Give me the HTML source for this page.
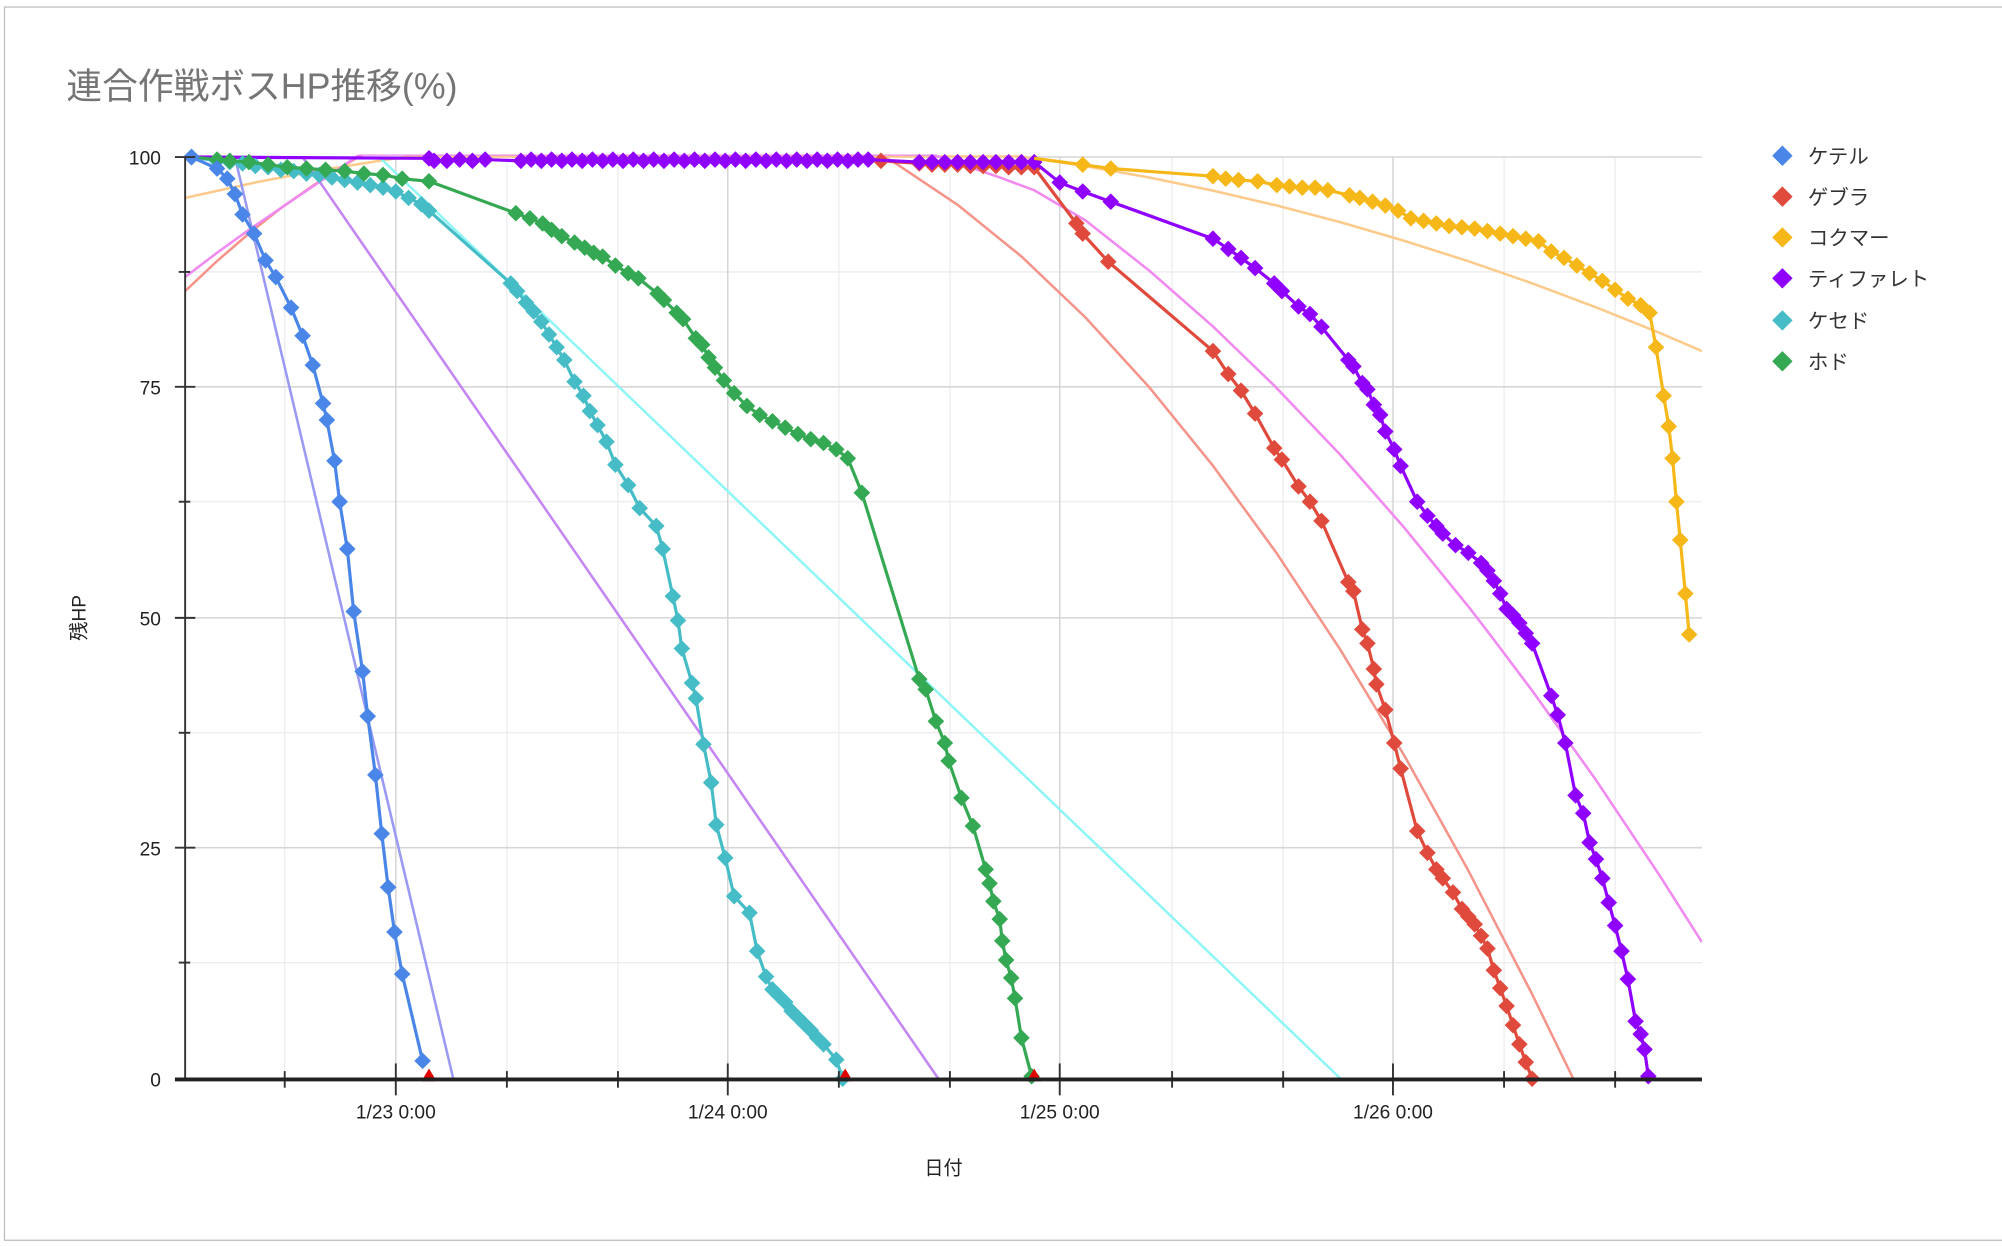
<!DOCTYPE html>
<html><head><meta charset="utf-8"><style>
html,body{margin:0;padding:0;background:#fff;}
svg{display:block;}
text{font-family:"Liberation Sans","Noto Sans CJK JP",sans-serif;}
</style></head><body>
<svg width="2002" height="1246" viewBox="0 0 1568 976" preserveAspectRatio="none" xmlns="http://www.w3.org/2000/svg">
<defs>
<marker id="mb" viewBox="-8 -8 16 16" markerWidth="16" markerHeight="16" markerUnits="userSpaceOnUse"><path d="M0-6.5L6.5 0 0 6.5-6.5 0Z" fill="#4a86e8"/></marker>
<marker id="mr" viewBox="-8 -8 16 16" markerWidth="16" markerHeight="16" markerUnits="userSpaceOnUse"><path d="M0-6.5L6.5 0 0 6.5-6.5 0Z" fill="#e04a3c"/></marker>
<marker id="my" viewBox="-8 -8 16 16" markerWidth="16" markerHeight="16" markerUnits="userSpaceOnUse"><path d="M0-6.5L6.5 0 0 6.5-6.5 0Z" fill="#f6b718"/></marker>
<marker id="mp" viewBox="-8 -8 16 16" markerWidth="16" markerHeight="16" markerUnits="userSpaceOnUse"><path d="M0-6.5L6.5 0 0 6.5-6.5 0Z" fill="#9000ff"/></marker>
<marker id="mt" viewBox="-8 -8 16 16" markerWidth="16" markerHeight="16" markerUnits="userSpaceOnUse"><path d="M0-6.5L6.5 0 0 6.5-6.5 0Z" fill="#46bdc6"/></marker>
<marker id="mg" viewBox="-8 -8 16 16" markerWidth="16" markerHeight="16" markerUnits="userSpaceOnUse"><path d="M0-6.5L6.5 0 0 6.5-6.5 0Z" fill="#34a853"/></marker>
<clipPath id="pc"><rect x="145" y="121" width="1188" height="726"/></clipPath>
</defs>
<rect x="0" y="0" width="1568" height="976" fill="#fff"/>
<rect x="3.5" y="5.5" width="1570" height="966" fill="none" stroke="#bdbdbd" stroke-width="1"/>
<text x="52" y="77" font-size="28" fill="#757575">連合作戦ボスHP推移(%)</text>

<!-- grid -->
<g stroke="#ececec" stroke-width="1">
<line x1="145" y1="213" x2="1333" y2="213"/><line x1="145" y1="393" x2="1333" y2="393"/><line x1="145" y1="574" x2="1333" y2="574"/><line x1="145" y1="754" x2="1333" y2="754"/>
<line x1="223" y1="123" x2="223" y2="845"/><line x1="397" y1="123" x2="397" y2="845"/><line x1="484" y1="123" x2="484" y2="845"/><line x1="657" y1="123" x2="657" y2="845"/><line x1="744" y1="123" x2="744" y2="845"/><line x1="918" y1="123" x2="918" y2="845"/><line x1="1005" y1="123" x2="1005" y2="845"/><line x1="1178" y1="123" x2="1178" y2="845"/><line x1="1265" y1="123" x2="1265" y2="845"/>
</g>
<g stroke="#d6d6d6" stroke-width="1.2">
<line x1="145" y1="123" x2="1333" y2="123"/><line x1="145" y1="303" x2="1333" y2="303"/><line x1="145" y1="484" x2="1333" y2="484"/><line x1="145" y1="664" x2="1333" y2="664"/>
<line x1="310" y1="123" x2="310" y2="845"/><line x1="570" y1="123" x2="570" y2="845"/><line x1="830" y1="123" x2="830" y2="845"/><line x1="1091" y1="123" x2="1091" y2="845"/>
</g>

<!-- trend lines -->
<g clip-path="url(#pc)" fill="none" stroke-width="2" stroke-linejoin="round">
<polyline stroke="#fccb8c" points="145,155 200,142.9 250,133.5 300,125.5 320,122.6 800,122.6 850,130.1 900,139 950,149.3 1000,161 1050,174.1 1100,188.7 1150,204.6 1200,221.9 1250,240.7 1300,260.8 1333,275"/>
<polyline stroke="#f4948a" points="145,228 170,204.5 196,182 220,163 245,145.5 270,129.3 290,117.6 680,117 700,126.9 750,160.4 800,200.9 850,248.5 900,303.2 950,364.8 1000,433.5 1050,509.3 1100,592.1 1150,681.9 1200,778.8 1232,844.5 1240,860"/>
<polyline stroke="#f08af0" points="145,217 170,198 195,180 220,163 245,146 270,129 282,121 730,121 760,131 783,139 810,149 850,172.5 900,211.9 950,255.7 999,303 1050,356.5 1100,413.5 1150,475 1170,501 1200,541 1250,611 1300,686 1333,738"/>
<line x1="184" y1="123" x2="355" y2="845" stroke="#9a9af5"/>
<line x1="237" y1="123" x2="735" y2="845" stroke="#c486f2"/>
<line x1="297" y1="123" x2="1050" y2="845" stroke="#8ff5f5"/>
</g>

<!-- series -->
<g fill="none" stroke-width="2.5" stroke-linejoin="round">
<polyline stroke="#9000ff" marker-start="url(#mp)" marker-mid="url(#mp)" marker-end="url(#mp)" points="150,123 336,124 340,126 350,126 360,125 370,126 380,125 408,126 416,125 424,126 432,125 440,126 448,125 456,126 464,125 472,126 480,125 488,126 496,125 504,126 512,125 520,126 528,125 536,126 544,125 552,126 560,125 568,126 576,125 584,126 592,125 600,126 608,125 616,126 624,125 632,126 640,125 648,126 656,125 664,126 672,125"/>
<polyline stroke="#e04a3c" marker-start="url(#mr)" marker-mid="url(#mr)" marker-end="url(#mr)" points="690,126 720,128 730,129 740,129 750,129 760,130 770,130 780,130 790,131 800,131 810,131 843,175 848,183 868,205 950,275 962,293 972,306 983,324 998,351 1004,360 1017,381 1026,393 1035,408 1056,456 1060,463 1067,493 1071,504 1076,524 1078,536 1085,556 1092,582 1097,602 1110,651 1118,668 1125,681 1130,688 1138,699 1145,712 1150,718 1155,724 1160,733 1165,743 1170,760 1175,774 1180,788 1185,803 1190,818 1195,832 1200,845"/>
<polyline stroke="#9000ff" marker-start="url(#mp)" marker-mid="url(#mp)" marker-end="url(#mp)" points="680,125 720,127 730,127 740,127 750,127 760,127 770,127 780,127 790,127 800,127 810,127 830,143 848,150 870,158 950,187 962,195 972,202 983,210 998,222 1004,228 1017,240 1026,246 1035,256 1056,282 1060,287 1067,300 1071,305 1076,317 1081,325 1085,338 1092,352 1097,365 1110,393 1118,404 1125,412 1130,418 1140,427 1150,433 1160,441 1165,447 1170,455 1175,465 1180,477 1185,482 1190,488 1195,496 1200,504 1215,545 1220,560 1226,582 1234,623 1240,637 1245,660 1250,673 1255,688 1260,707 1265,725 1270,745 1275,767 1281,800 1285,810 1288,822 1291,843"/>
<polyline stroke="#f6b718" marker-mid="url(#my)" marker-end="url(#my)" points="810,124 848,129 870,132 950,138 960,140 970,141 985,142 1000,145 1010,146 1020,147 1030,147 1040,149 1057,153 1065,155 1075,158 1085,161 1095,165 1105,171 1115,173 1125,175 1135,177 1145,178 1155,179 1165,181 1175,183 1185,185 1195,187 1205,189 1215,197 1225,202 1235,208 1245,214 1255,220 1265,227 1275,234 1285,239 1292,245 1297,272 1303,310 1307,334 1310,359 1313,393 1316,423 1320,465 1323,497"/>
<polyline stroke="#46bdc6" marker-start="url(#mt)" marker-mid="url(#mt)" marker-end="url(#mt)" points="150,123 170,126 180,127 190,128 200,130 210,131 220,133 230,134 240,136 250,137 260,139 270,141 280,143 290,145 300,147 310,150 320,155 330,160 336,165 400,222 405,228 412,237 418,244 424,252 430,262 436,272 442,282 450,299 457,310 462,322 468,333 475,346 482,364 492,380 501,398 514,412 519,430 527,467 531,486 534,508 542,535 545,547 551,583 557,613 561,646 568,672 575,702 587,715 593,745 600,765 605,775 610,780 615,785 620,792 625,797 630,802 635,807 640,813 645,818 655,830 660,845"/>
<polyline stroke="#34a853" marker-start="url(#mg)" marker-mid="url(#mg)" marker-end="url(#mg)" points="150,123 170,125 180,126 195,127 210,129 225,131 240,132 255,133 270,134 285,136 300,137 315,140 336,142 404,167 415,171 425,175 432,180 440,185 450,190 458,194 465,198 472,201 482,208 492,214 500,218 515,230 520,235 530,245 535,250 545,265 550,270 555,280 560,288 567,298 575,308 585,318 595,325 605,330 615,335 625,340 635,344 645,347 655,352 664,359 675,386 720,532 725,540 733,565 740,582 743,596 753,625 762,647 772,681 775,692 778,706 783,720 785,737 788,752 792,766 795,782 800,813 808,843"/>
<polyline stroke="#4a86e8" marker-start="url(#mb)" marker-mid="url(#mb)" marker-end="url(#mb)" points="150,123 170,132 178,140 184,152 190,168 199,183 208,204 216,217 228,241 237,263 245,286 253,316 256,329 262,361 266,393 272,430 277,479 284,526 288,561 294,607 299,653 304,695 309,730 315,763 331,831"/>
</g>
<g fill="#e00000">
<path d="M336,837L342,847 330,847Z"/><path d="M662,837L668,847 656,847Z"/><path d="M810,837L816,847 804,847Z"/>
</g>

<!-- axes -->
<g stroke="#333" stroke-width="1.5">
<line x1="145" y1="123" x2="145" y2="846"/>
<line x1="137" y1="123" x2="153" y2="123"/><line x1="137" y1="303" x2="153" y2="303"/><line x1="137" y1="484" x2="153" y2="484"/><line x1="137" y1="664" x2="153" y2="664"/>
<line x1="140" y1="213" x2="149" y2="213"/><line x1="140" y1="393" x2="149" y2="393"/><line x1="140" y1="574" x2="149" y2="574"/><line x1="140" y1="754" x2="149" y2="754"/>
<line x1="310" y1="833" x2="310" y2="858"/><line x1="570" y1="833" x2="570" y2="858"/><line x1="830" y1="833" x2="830" y2="858"/><line x1="1091" y1="833" x2="1091" y2="858"/>
<line x1="223" y1="839" x2="223" y2="852"/><line x1="397" y1="839" x2="397" y2="852"/><line x1="484" y1="839" x2="484" y2="852"/><line x1="657" y1="839" x2="657" y2="852"/><line x1="744" y1="839" x2="744" y2="852"/><line x1="918" y1="839" x2="918" y2="852"/><line x1="1005" y1="839" x2="1005" y2="852"/><line x1="1178" y1="839" x2="1178" y2="852"/><line x1="1265" y1="839" x2="1265" y2="852"/>
</g>
<line x1="137" y1="845.5" x2="1333" y2="845.5" stroke="#222" stroke-width="3"/>

<g font-size="15" fill="#222" text-anchor="end">
<text x="126" y="129">100</text><text x="126" y="309">75</text><text x="126" y="490">50</text><text x="126" y="670">25</text><text x="126" y="851">0</text>
</g>
<g font-size="15" fill="#222" text-anchor="middle">
<text x="310" y="876">1/23 0:00</text><text x="570" y="876">1/24 0:00</text><text x="830" y="876">1/25 0:00</text><text x="1091" y="876">1/26 0:00</text>
<text x="739" y="920">日付</text>
<text transform="translate(67,484) rotate(-90)">残HP</text>
</g>

<!-- legend -->
<g font-size="16" fill="#333">
<path d="M1396,114L1404,122 1396,130 1388,122Z" fill="#4a86e8"/><text x="1416" y="128">ケテル</text>
<path d="M1396,146L1404,154 1396,162 1388,154Z" fill="#e04a3c"/><text x="1416" y="160">ゲブラ</text>
<path d="M1396,178L1404,186 1396,194 1388,186Z" fill="#f6b718"/><text x="1416" y="192">コクマー</text>
<path d="M1396,210L1404,218 1396,226 1388,218Z" fill="#9000ff"/><text x="1416" y="224">ティファレト</text>
<path d="M1396,243L1404,251 1396,259 1388,251Z" fill="#46bdc6"/><text x="1416" y="257">ケセド</text>
<path d="M1396,275L1404,283 1396,291 1388,283Z" fill="#34a853"/><text x="1416" y="289">ホド</text>
</g>
</svg>
</body></html>
